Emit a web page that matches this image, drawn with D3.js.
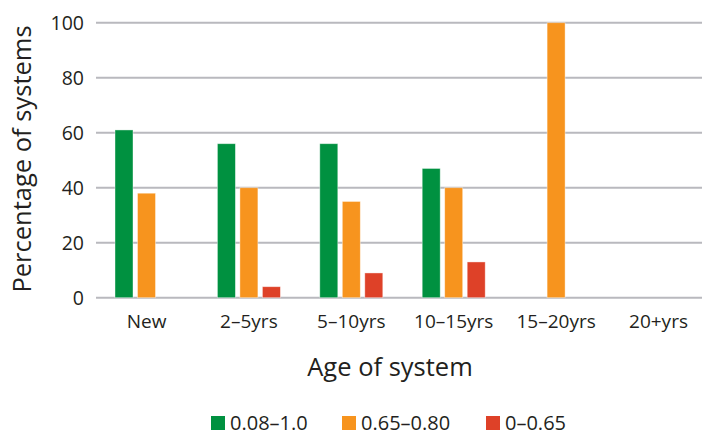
<!DOCTYPE html>
<html>
<head>
<meta charset="utf-8">
<script src="https://cdn.jsdelivr.net/npm/d3@7"></script>
<style>
  html, body { margin: 0; padding: 0; background: #fff; }
  svg text { font-family: "Open Sans", Lato, sans-serif; fill: #231f20; }
</style>
</head>
<body>
<svg id="chart" width="702" height="436"></svg>
<script>
// Age groups and the share of systems in each efficiency band
const categories = ["New", "2\u20135yrs", "5\u201310yrs", "10\u201315yrs", "15\u201320yrs", "20+yrs"];
const seriesNames = ["0.08\u20131.0", "0.65\u20130.80", "0\u20130.65"];
const seriesHigh = [61, 56, 56, 47, 0, 0];
const seriesMid = [38, 40, 35, 40, 100, 0];
const seriesLow = [0, 4, 9, 13, 0, 0];
const yTicks = [0, 20, 40, 60, 80, 100];
const colors = ["#009140", "#f7941e", "#de4128"];

const seriesValues = [seriesHigh, seriesMid, seriesLow];
const rows = categories.map((c, i) => ({
  cat: c,
  values: seriesNames.map((s, j) => ({ key: s, value: seriesValues[j][i], color: colors[j] }))
}));

const FONT = "'Open Sans', Lato, sans-serif";
const svg = d3.select("#chart");

const y = d3.scaleLinear().domain([0, 100]).range([297.7, 22.7]);

// bar groups
const x0 = d3.scaleBand().domain(categories).range([95.3, 709.7]).padding(0);
const x1 = d3.scaleBand().domain(seriesNames)
  .range([19.7, 82.7]).paddingInner(0.2).paddingOuter(0);

// gridlines
svg.append("g").selectAll("line").data(yTicks).join("line")
  .attr("x1", 96).attr("x2", 702)
  .attr("y1", d => y(d)).attr("y2", d => y(d))
  .attr("stroke", "#b9b9be").attr("stroke-width", 2);

// y axis tick labels
const yAxis = d3.axisLeft(y).tickValues(yTicks).tickSize(0).tickPadding(0);
const gy = svg.append("g").attr("transform", "translate(84,0)").call(yAxis);
gy.select(".domain").remove();
gy.selectAll("text")
  .attr("font-size", 19.5).attr("dy", "0.36em")
  .style("font-family", FONT).attr("fill", "#231f20");

// bars
const groups = svg.append("g").selectAll("g").data(rows).join("g")
  .attr("transform", d => `translate(${x0(d.cat)},0)`);
groups.selectAll("rect").data(d => d.values.filter(v => v.value > 0)).join("rect")
  .attr("x", d => x1(d.key))
  .attr("width", x1.bandwidth())
  .attr("y", d => y(d.value))
  .attr("height", d => y(0) - y(d.value))
  .attr("fill", d => d.color)
  .attr("stroke", "#ffffff").attr("stroke-opacity", 0.5).attr("stroke-width", 0.8);

// x axis labels, centred under each group
const xAxis = d3.axisBottom(x0).tickSize(0).tickPadding(0);
const gx = svg.append("g").attr("transform", "translate(0,328)").call(xAxis);
gx.select(".domain").remove();
gx.selectAll("text")
  .attr("font-size", 19).attr("dy", 0).attr("y", 0)
  .style("font-family", FONT).attr("fill", "#231f20");

// axis titles
svg.append("text")
  .attr("transform", "translate(31,159) rotate(-90)")
  .attr("text-anchor", "middle").attr("font-size", 25.5)
  .text("Percentage of systems");

svg.append("text")
  .attr("x", 390).attr("y", 376)
  .attr("text-anchor", "middle").attr("font-size", 25.5)
  .text("Age of system");

// legend
const legendX = [211, 342, 486];
const legend = svg.append("g").selectAll("g").data(seriesNames).join("g")
  .attr("transform", (d, i) => `translate(${legendX[i]},416)`);
legend.append("rect").attr("width", 14).attr("height", 14)
  .attr("fill", (d, i) => colors[i]);
legend.append("text").attr("x", 19).attr("y", 14)
  .attr("font-size", 20).text(d => d);
</script>
</body>
</html>
